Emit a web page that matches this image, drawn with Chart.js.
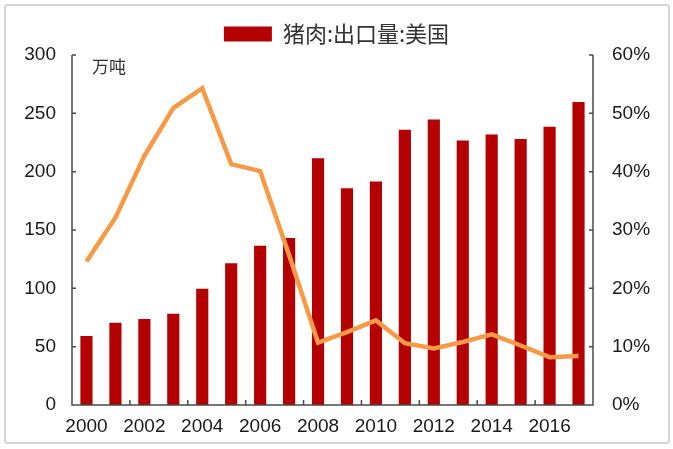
<!DOCTYPE html>
<html>
<head>
<meta charset="utf-8">
<script src="https://cdn.jsdelivr.net/npm/chart.js@4.4.1/dist/chart.umd.min.js"></script>
<style>
  html, body { margin: 0; padding: 0; background: #ffffff; }
  #wrap { position: relative; width: 673px; height: 449px; }
  #frame { position: absolute; left: 4px; top: 4px; width: 662px; height: 436px;
           border: 2px solid #d6d6d6; border-radius: 3px; pointer-events: none; }
  canvas { position: absolute; left: 0; top: 0; }
</style>
</head>
<body>
<div id="wrap">
  <canvas id="c" width="673" height="449"></canvas>
  <div id="frame"></div>
</div>
<script>
const years = ['2000','2001','2002','2003','2004','2005','2006','2007','2008','2009',
               '2010','2011','2012','2013','2014','2015','2016','2017'];
const exportVolume = [59.1, 70.6, 73.7, 78.2, 99.6, 121.5, 136.6, 143.1, 211.4, 185.8,
                      191.5, 236.0, 244.7, 226.8, 231.9, 228.1, 238.4, 259.7];
const sharePct = [24.6, 32.1, 42.7, 50.9, 54.3, 41.3, 40.1, 25.7, 10.7, 12.5,
                  14.5, 10.6, 9.7, 10.8, 12.1, 10.2, 8.2, 8.4];
const leftTicksMax = 300, leftStep = 50;
const rightTicksMax = 60, rightStep = 10;
const barLabel = '猪肉:出口量:美国';
const unitLabel = '万吨';

const axisColor = '#4a4a4a';
const textColor = '#1a1a1a';
const latin = '"Liberation Sans", Arial, sans-serif';
const cjk = '"Noto Sans CJK SC", "Liberation Sans", sans-serif';

const decor = {
  id: 'decor',
  afterDraw(chart) {
    const ctx = chart.ctx;
    const a = chart.chartArea;
    const x = chart.scales.x, y = chart.scales.y, y1 = chart.scales.y1;
    ctx.save();
    ctx.strokeStyle = axisColor;
    ctx.lineWidth = 1.5;
    ctx.beginPath();
    ctx.moveTo(a.left, a.top); ctx.lineTo(a.left, a.bottom); ctx.lineTo(a.right, a.bottom); ctx.lineTo(a.right, a.top);
    y.ticks.forEach(t => { const p = y.getPixelForValue(t.value); ctx.moveTo(a.left, p); ctx.lineTo(a.left + 4, p); });
    y1.ticks.forEach(t => { const p = y1.getPixelForValue(t.value); ctx.moveTo(a.right, p); ctx.lineTo(a.right - 4, p); });
    for (let i = 1; i < years.length - 1; i += 2) {
      const p = (x.getPixelForValue(i) + x.getPixelForValue(i + 1)) / 2;
      ctx.moveTo(p, a.bottom); ctx.lineTo(p, a.bottom - 5);
    }
    ctx.stroke();
    ctx.fillStyle = '#333333';
    ctx.font = '17px ' + cjk;
    ctx.textBaseline = 'middle';
    ctx.textAlign = 'left';
    ctx.fillText(unitLabel, a.left + 20, a.top + 12);
    ctx.restore();
  }
};

new Chart(document.getElementById('c'), {
  data: {
    labels: years,
    datasets: [
      { type: 'bar', label: barLabel, data: exportVolume, yAxisID: 'y', order: 2,
        backgroundColor: '#b40000', borderWidth: 0,
        barPercentage: 0.42, categoryPercentage: 1.0 },
      { type: 'line', label: 'share', data: sharePct, yAxisID: 'y1', order: 1,
        borderColor: '#f79a45', borderWidth: 4.5, pointRadius: 0, tension: 0, fill: false }
    ]
  },
  plugins: [decor],
  options: {
    responsive: false,
    animation: false,
    devicePixelRatio: 1,
    layout: { padding: { top: 16, left: 0, right: 0, bottom: 0 } },
    plugins: {
      tooltip: { enabled: false },
      legend: {
        display: true,
        position: 'top',
        labels: {
          filter: (item) => item.datasetIndex === 0,
          boxWidth: 48, boxHeight: 15,
          color: '#333333',
          font: { family: cjk, size: 22 },
          padding: 7
        }
      }
    },
    scales: {
      x: {
        offset: true,
        grid: { display: false, drawTicks: false },
        border: { display: false },
        ticks: {
          autoSkip: false, maxRotation: 0, minRotation: 0,
          color: textColor, font: { family: latin, size: 19 }, padding: 10,
          callback: (v, i) => (i % 2 === 0 ? years[i] : '')
        },
        afterFit: (s) => { s.height = 44; }
      },
      y: {
        position: 'left', min: 0, max: leftTicksMax,
        grid: { display: false, drawTicks: false },
        border: { display: false },
        ticks: { stepSize: leftStep, color: textColor, font: { family: latin, size: 19 }, padding: 16 },
        afterFit: (s) => { s.width = 72; }
      },
      y1: {
        position: 'right', min: 0, max: rightTicksMax,
        grid: { display: false, drawTicks: false },
        border: { display: false },
        ticks: { stepSize: rightStep, color: textColor, font: { family: latin, size: 19 }, padding: 19,
                 callback: (v) => v + '%' },
        afterFit: (s) => { s.width = 80; }
      }
    }
  }
});
</script>
</body>
</html>
